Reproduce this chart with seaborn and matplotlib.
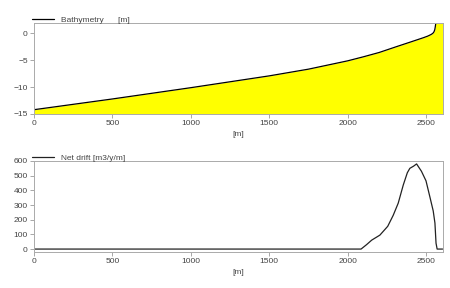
import matplotlib
matplotlib.use("Agg")
import matplotlib.pyplot as plt
import seaborn as sns
import pandas as pd

sns.set_style("white")
plt.rcParams['font.family'] = ['Liberation Sans', 'DejaVu Sans']

# Bathymetry profile
bath_x = [0, 500, 1000, 1500, 1750, 2000, 2100, 2200, 2312, 2400, 2482, 2510, 2530, 2542, 2550, 2555, 2558, 2562, 2605]
bath_y = [-14.2, -12.2, -10.1, -7.9, -6.65, -5.1, -4.35, -3.55, -2.45, -1.6, -0.8, -0.5, -0.22, 0.0, 0.3, 0.7, 1.2, 2.0, 2.0]

# Net drift
drift_x = [0, 2085, 2120, 2153, 2205, 2255, 2290, 2322, 2354, 2380, 2396, 2420, 2439,
           2470, 2499, 2525, 2545, 2556, 2563, 2570, 2605]
drift_y = [0, 0, 30, 61, 95, 155, 230, 313, 436, 520, 550, 565, 580,
           530, 465, 350, 260, 177, 40, 0, 0]

x_ticks = [0, 500, 1000, 1500, 2000, 2500]

bath = pd.DataFrame({"x": bath_x, "y": bath_y})
drift = pd.DataFrame({"x": drift_x, "y": drift_y})

fig = plt.figure(figsize=(4.5, 2.88), dpi=100)
ax1 = fig.add_axes([0.0756, 0.6042, 0.908, 0.317])
ax2 = fig.add_axes([0.0756, 0.125, 0.908, 0.316])

fs = 6
gray = "#999999"
tc = "#444444"

ax1.fill_between(bath["x"], bath["y"], -15, color="#ffff00", linewidth=0)
sns.lineplot(data=bath, x="x", y="y", ax=ax1, color="black", linewidth=0.9,
             label="Bathymetry      [m]")
ax1.set_xlim(0, 2605)
ax1.set_ylim(-15, 2)
ax1.set_yticks([0, -5, -10, -15])

sns.lineplot(data=drift, x="x", y="y", ax=ax2, color="#222222", linewidth=0.9,
             label="Net drift [m3/y/m]")
ax2.set_xlim(0, 2605)
ax2.set_ylim(-20, 600)
ax2.set_yticks([0, 100, 200, 300, 400, 500, 600])

for ax in (ax1, ax2):
    ax.set_xticks(x_ticks)
    ax.set_xlabel("[m]", fontsize=fs, color=tc, labelpad=3)
    ax.set_ylabel("")
    ax.tick_params(axis="both", labelsize=fs, colors=gray, labelcolor=tc,
                   length=3, width=0.6, pad=1.5, direction="out",
                   bottom=True, left=True)
    for s in ax.spines.values():
        s.set_color("#aaaaaa")
        s.set_linewidth(0.7)
    leg = ax.legend(loc="lower left", bbox_to_anchor=(-0.005, 0.985), frameon=False,
                    fontsize=fs, handlelength=2.7, handletextpad=0.8,
                    borderpad=0, borderaxespad=0)
    for t in leg.get_texts():
        t.set_color(tc)

fig.savefig("out.png", dpi=100)
